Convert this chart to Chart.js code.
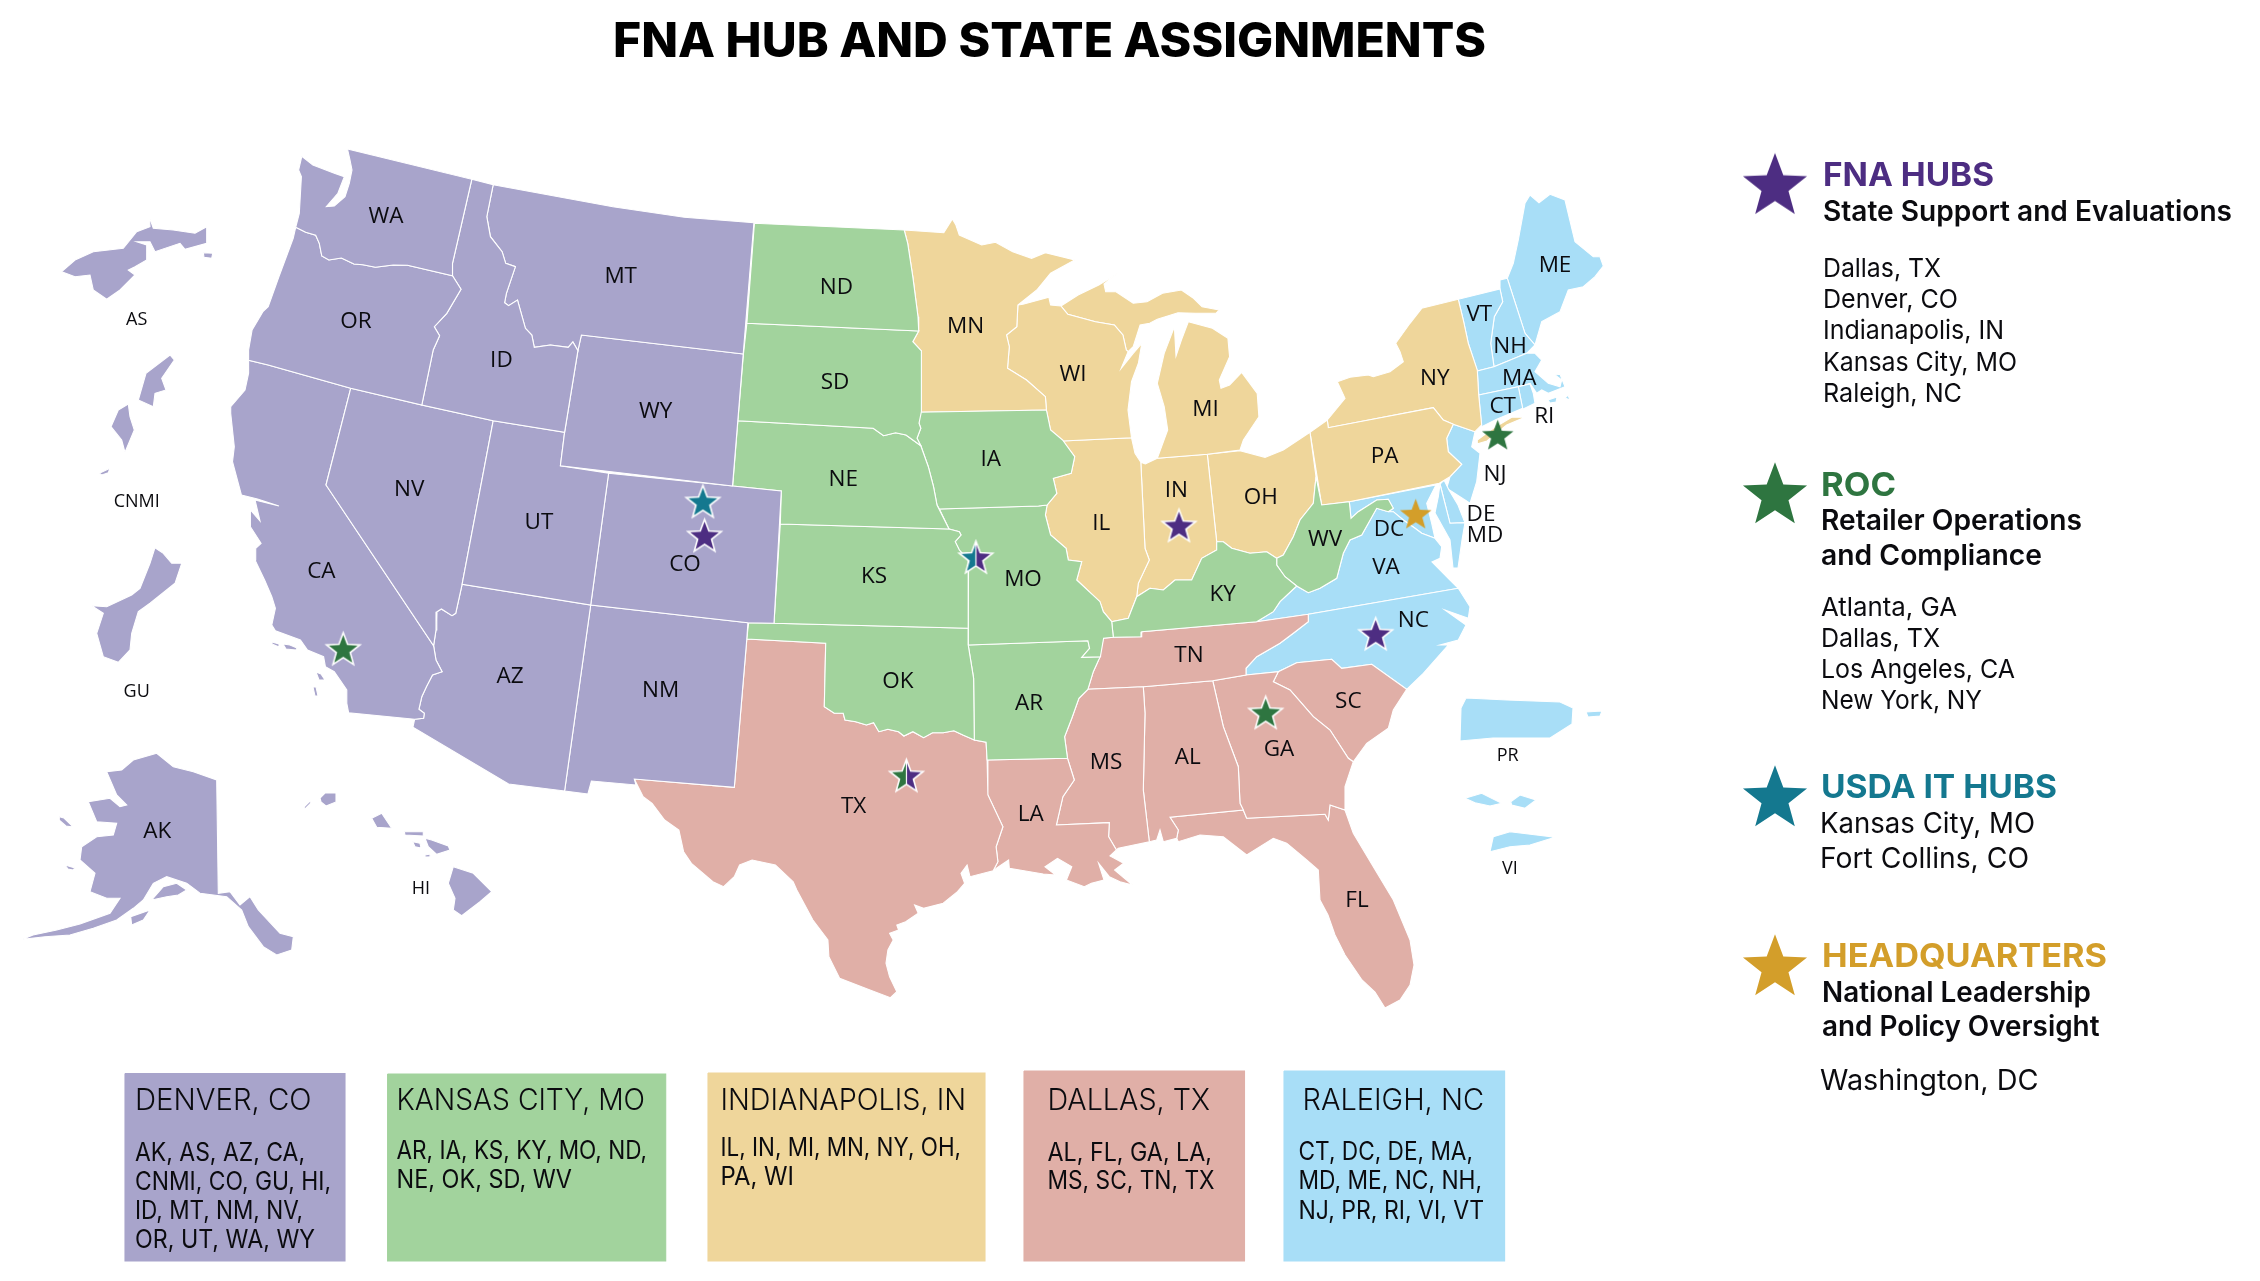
<!DOCTYPE html>
<html>
<head>
<meta charset="utf-8">
<title>FNA Hub and State Assignments</title>
<script src="https://cdn.jsdelivr.net/npm/chart.js@4/dist/chart.umd.min.js"></script>
<style>
    html, body { margin: 0; padding: 0; background: #fff; }
    canvas { display: block; }
</style>
</head>
<body>
<canvas id="mapa" width="2260" height="1281"></canvas>
<script>
// outlines are x,y pairs in map units
const WA = [301.8,156.3, 312.9,165, 334.3,173.3, 344.3,176.7, 337.9,193.3, 326.4,206.7, 334.3,206, 345,196.7, 349.3,183.3, 352,170, 350,160, 347.5,149, 471.8,179.3, 452.5,263.3, 452.5,275.7, 407.5,265.3, 393.2,265, 375.4,267.3, 362.9,264.7, 353.9,264, 341.4,258, 328.9,260, 321.8,256, 319.3,243.3, 315.7,235.3, 305.7,232.3, 295.7,227.3, 299.3,213.3, 301.4,176.7, 298.6,170];
const OR = [295.7,227.3, 305.7,232.3, 315.7,235.3, 319.3,243.3, 321.8,256, 328.9,260, 341.4,258, 353.9,264, 362.9,264.7, 375.4,267.3, 393.2,265, 407.5,265.3, 452.5,275.7, 461,289.3, 446.8,313.3, 434.3,326.7, 439.6,335.7, 433.2,350, 421.8,405, 350.7,388.3, 268.2,365, 248.6,360.3, 248.6,350, 252.1,330, 262.9,311.7, 268.2,306.7, 278.9,276.7, 293.2,238.3];
const ID = [471.8,179.3, 493.2,184.7, 486.8,216.7, 490.4,236.7, 502.1,251.7, 505.7,263.3, 515.4,266.7, 506.4,293.3, 504.6,302.7, 508.6,305.7, 517.5,300, 525.4,328.3, 531.8,335, 534.3,347.3, 550.4,345, 568.2,347.3, 572.9,342, 577.9,350.7, 564.6,432.3, 493.2,420.7, 421.8,405, 433.2,350, 439.6,335.7, 434.3,326.7, 446.8,313.3, 461,289.3, 452.5,275.7, 452.5,263.3];
const MT = [493.2,184.7, 612.9,206.7, 684.3,217.3, 753.9,222.7, 743.2,354, 581.4,335, 577.9,350.7, 572.9,342, 568.2,347.3, 550.4,345, 534.3,347.3, 531.8,335, 525.4,328.3, 517.5,300, 508.6,305.7, 504.6,302.7, 506.4,293.3, 515.4,266.7, 505.7,263.3, 502.1,251.7, 490.4,236.7, 486.8,216.7];
const WY = [581.4,335, 743.2,354, 732.5,486, 560.4,465.7, 564.6,432.3, 577.9,350.7];
const UT = [493.2,420.7, 564.6,432.3, 560.4,465.7, 608.6,473.3, 590.7,605, 462.1,584.3];
const CO = [608.6,473.3, 732.5,486, 781.3,491, 774,623.3, 747.9,622.7, 590.7,605];
const NV = [350.7,388.3, 421.8,405, 493.2,420.7, 462.1,584.3, 455.7,613.3, 452,615.7, 441.4,609, 436.8,611.7, 436,630, 433.6,645.7, 326,485];
const CA = [248.6,360.3, 268.2,365, 350.7,388.3, 326,485, 433.6,645.7, 436,660, 442.1,671.7, 432.5,675, 426.4,686.7, 421.8,696.7, 418.9,709.3, 424.3,713.3, 423.6,718.3, 414.6,719.3, 348.6,712.7, 346.8,703.3, 346.8,690, 334.3,671.7, 325.4,666.7, 323.6,656.7, 307.5,650, 300.4,640, 275.4,630.7, 271.8,625, 275.4,608.3, 271.8,596.7, 264.6,580, 255,560, 255.7,548.3, 261.1,543.3, 250.4,526.7, 250.4,510, 260,521, 255,500, 279,506, 257.5,499, 241.4,495, 232.5,461.7, 234.3,446.7, 230.7,413.3, 230.7,406.7, 245,390, 248.6,373.3];
const CA_ISLAND_1 = [272,642, 279,644, 279,647, 272,644];
const CA_ISLAND_2 = [283,644, 290,645, 297,648, 296,650, 286,649];
const CA_ISLAND_3 = [316,672, 321,674, 325,680, 319,680];
const CA_ISLAND_4 = [313,687, 316,687, 318,696, 315,696];
const AZ = [462.1,584.3, 590.7,605, 564.6,791, 508.6,784, 412.9,727.3, 414.6,719.3, 423.6,718.3, 424.3,713.3, 418.9,709.3, 421.8,696.7, 426.4,686.7, 432.5,675, 442.1,671.7, 436,660, 433.6,645.7, 436,630, 436.8,611.7, 441.4,609, 452,615.7, 455.7,613.3];
const NM = [590.7,605, 747.9,622.7, 746.8,639, 734.3,787.3, 634.3,779, 636,785, 591.4,781, 587.9,794, 564.6,791];
const AK = [156.7,753.3, 173.3,766.7, 193.3,771.7, 216.7,780, 218.3,893.3, 230,891.7, 240,905, 250,896.7, 258.3,910, 280,933.3, 293.3,936.7, 291.7,950, 276.7,955, 263.3,946.7, 248.3,926.7, 241.7,910, 226.7,896.7, 200,893.3, 186.7,883.3, 166.7,876.7, 153.3,883.3, 143.3,900, 133.3,908.3, 116.7,920, 93.3,928.3, 70,935, 45,936.7, 22.7,939.3, 33,935, 56.7,930, 80,924, 110,913.3, 120,898.3, 106.7,898.3, 90,891.7, 95,873.3, 80,860, 81.7,846.7, 96.7,836.7, 113.3,835, 116.7,823.3, 96.7,821.7, 88.3,801.7, 110,798.3, 120,806.7, 126.7,805, 116.7,795, 106.7,771.7, 121.7,770, 133.3,760];
const AK_KENAI = [151.7,900, 163.3,886.7, 176.7,883.3, 186.7,890, 178.3,895, 166.7,896.7];
const AK_KODIAK = [150,910, 143.3,920, 131.7,925, 130.7,916.7];
const AK_ST_LAWRENCE = [59.3,816.7, 64,818, 73.3,827, 66,826, 59,820];
const AK_NUNIVAK = [65,865, 75,868, 73,870, 68,869];
const HI_KAUAI = [320,798, 325,793, 336,793, 336,802, 326,806, 321,802];
const HI_NIIHAU = [304,807, 310,801, 311,803, 305,809];
const HI_OAHU = [371.7,818.3, 381.7,813.3, 391.7,828.3, 376.7,827.3];
const HI_MOLOKAI = [404.3,831.7, 423.3,831.7, 423.3,836, 405,835];
const HI_LANAI = [412.7,841.7, 420,843.3, 421,848, 415,846.7];
const HI_MAUI = [425,838.3, 431.7,840, 448.3,846, 450,850, 436.7,854.3, 428.3,846.7];
const HI_KAHOOLAWE = [425,855, 430.7,854, 430,856.7, 425,857];
const HI_BIG = [453.3,866.7, 473.3,873.3, 491.7,891.7, 480,901.7, 461.7,915.7, 453.3,910, 455,898.3, 448.3,883.3];
const AS_MAIN = [61.7,271.7, 75,260, 93.3,251.7, 123.3,248.3, 136.7,231.7, 150,226.7, 149.3,216.7, 153.3,228.3, 173.3,230, 195,233.3, 206.7,226.7, 206.7,243.3, 185,249.3, 180,243.3, 155,251.7, 150,241.7, 136.7,241.7, 146.7,245, 146.7,260, 135,266.7, 128.3,270, 135,275, 120,290, 106.7,299.3, 93.3,290, 90,275, 75,276.7];
const AS_SMALL = [203.3,252.7, 212.7,253.3, 211.7,258.3, 204,257.3];
const CNMI_SAIPAN = [170,355, 174.3,360, 161.7,378.3, 166,390, 155,393.3, 153.3,406.7, 138.3,400, 146,373.3];
const CNMI_TINIAN = [128.3,404, 130,416.7, 134.3,430, 125,452.3, 121.7,440, 111,426.7, 118.3,410];
const CNMI_ROTA = [99.3,473.3, 110,468.3, 108.3,472.7, 101.7,475];
const GU = [155,547.7, 163.3,553.3, 171.7,563.3, 181.7,563.3, 175,583.3, 150,603.3, 138.3,611.7, 131.7,633.3, 130,650, 118.3,662.3, 103.3,656.7, 96.7,633.3, 103.3,613.3, 91.7,605.7, 106.7,606.7, 131.7,595, 140,588.3, 150,563.3];

const ND = [754.4,223.3, 904.2,230, 907.7,243.3, 912.8,276.7, 918,316.7, 918.7,331, 746.9,323.3];
const SD = [746.9,323.3, 918.7,331, 912.8,341.7, 921.4,351, 921.4,411.7, 919,423.3, 920.8,428.3, 917,438.3, 920.8,445.7, 906,435, 895.6,432.7, 883.6,435.7, 873.2,428.3, 737.9,420.7, 743.4,354.3];
const NE = [737.9,420.7, 873.2,428.3, 883.6,435.7, 895.6,432.7, 906,435, 920.8,445.7, 928.3,466.7, 933.5,486.7, 937,505, 949,529, 780.3,524, 781.3,491, 732.7,486];
const KS = [780.3,524, 949,529, 959.3,531.7, 961,535, 955.2,541.7, 959.3,550, 968.6,560, 968.2,628.3, 774,623.3];
const IA = [918,412.3, 1046.4,410, 1050.6,430, 1062.6,440, 1074.7,456.7, 1071.2,473.3, 1053.3,478.3, 1056.8,493.3, 1047.1,505, 1038.5,506, 939.4,509, 937,505, 933.5,486.7, 928.3,466.7, 920.8,445.7, 917,438.3, 920.8,428.3, 919,423.3];
const MO = [939.4,509, 1038.5,506, 1047.1,505, 1045.4,515, 1050.6,535, 1066.1,548.3, 1068.3,560, 1081.7,561.7, 1076.7,580, 1100,601.7, 1103.3,611.7, 1111.7,621.7, 1113.3,637.3, 1103.6,638.3, 1100.4,656.7, 1081.8,657.3, 1089.6,648.3, 1087.9,640.7, 968.2,645, 968.2,628.3, 968.6,560, 959.3,550, 955.2,541.7, 961,535, 959.3,531.7, 949,529];
const OK = [748.6,622.7, 773.6,623.3, 968.2,628.3, 968.2,645, 973.6,678.3, 974.3,740, 962.9,735, 953.9,730.7, 943.2,732.7, 932.5,732.7, 923.6,737.7, 912.9,731.7, 903.9,736, 898.6,731.7, 887.9,729.3, 878.9,731.7, 873.6,722.7, 866.4,725, 855.7,721.7, 845,720, 843.2,713.3, 834.3,713.3, 824.3,706.7, 825.7,643.3, 746.8,639];
const AR = [968.2,645, 1087.9,640.7, 1089.6,648.3, 1081.8,657.3, 1100.4,656.7, 1098.6,660, 1093.3,671.7, 1087.9,689.3, 1078.9,698.3, 1071.8,718.3, 1064.6,736.7, 1067.5,758.3, 987.1,760, 986.1,742.3, 974.3,740, 973.6,678.3];
const KY = [1216.7,541.7, 1223.3,541.7, 1231.7,548.3, 1250,553.3, 1266.7,551.7, 1276.7,558.3, 1276.7,565, 1285,576.7, 1296.7,586, 1280,601.7, 1273.3,611.7, 1256.7,621.7, 1141.7,631.7, 1141,636.7, 1113.3,637.3, 1111.7,621.7, 1128.3,618.3, 1136.7,596.7, 1150,588.3, 1163.3,590, 1175,580, 1191.7,580, 1201.7,558.3, 1216.7,550];
const WV = [1316,476.7, 1321.7,505, 1349.3,501.7, 1351,518.3, 1358.3,511.7, 1376.7,500, 1388.3,499.3, 1393.3,508.3, 1388.3,511.7, 1376.7,508.3, 1361.7,535, 1350,540, 1343.3,553.3, 1336.7,578.3, 1320,588.3, 1308.3,592.7, 1296.7,586, 1285,576.7, 1276.7,565, 1276.7,558.3, 1283.3,555, 1293.3,536.7, 1300,520, 1313.3,503.3];

const MN = [904.2,230, 943.8,232.7, 952.4,219, 955.9,225, 959.3,235, 981.7,245, 995.5,242.3, 1012.7,251.7, 1031.6,258.3, 1045.4,252.7, 1074.7,260, 1050.6,273.3, 1036.8,290, 1017.9,305, 1016.8,326.7, 1006.5,335, 1009.3,346.7, 1007.5,368.3, 1026.5,380, 1045.4,396.7, 1046.4,410, 918,412.3, 921.4,411.7, 921.4,351, 912.8,341.7, 918.7,331, 918,316.7, 912.8,276.7, 907.7,243.3];
const WI = [1017.9,305, 1023,304.3, 1048.9,297.3, 1050.6,305, 1060.9,306, 1067.8,314.3, 1095.4,321.7, 1114.3,325, 1122.9,335, 1126.3,350, 1128.1,351.7, 1121.2,368.3, 1133.2,353.3, 1141.8,343.3, 1138.4,363.3, 1131.5,381.7, 1128,410, 1131.5,437.7, 1062.6,441, 1050.6,430, 1046.4,410, 1045.4,396.7, 1026.5,380, 1007.5,368.3, 1009.3,346.7, 1006.5,335, 1016.8,326.7];
const MI_UPPER = [1060.9,306, 1078.1,295, 1098.8,285, 1117.7,273.3, 1104,284, 1105.7,291.7, 1116,291.7, 1133.2,303.3, 1147,301.7, 1162.5,293.3, 1181.4,290, 1193.5,298.3, 1202.1,306.7, 1219.3,310, 1215.9,313.3, 1195.2,313.3, 1178,312.7, 1167.7,316, 1157.3,319.3, 1149.7,323.3, 1140.1,325, 1133.2,346.7, 1128.1,351.7, 1126.3,350, 1122.9,335, 1114.3,325, 1095.4,321.7, 1067.8,314.3];
const MI_LOWER = [1157.3,458.3, 1167.7,430, 1164.2,406.7, 1157.3,383.3, 1164.2,353.3, 1174.4,326.7, 1176,356, 1181.4,340, 1188.3,321.7, 1212.4,328.3, 1227.9,338.3, 1229.6,356.7, 1219.3,380, 1221,388.3, 1229.6,385, 1241.7,372.3, 1257.2,393.3, 1258.9,416.7, 1243.4,440, 1240,450, 1207.3,454.3];
const IL = [1062.6,441, 1131.5,437.7, 1135,453.3, 1140.8,462.3, 1145,548.3, 1149.3,560, 1138.3,583.3, 1136.7,596.7, 1128.3,618.3, 1111.7,621.7, 1103.3,611.7, 1100,601.7, 1076.7,580, 1081.7,561.7, 1068.3,560, 1066.1,548.3, 1050.6,535, 1045.4,515, 1047.1,505, 1056.8,493.3, 1053.3,478.3, 1071.2,473.3, 1074.7,456.7];
const IN = [1140.8,462.3, 1145.3,464, 1157.3,458.3, 1207.3,454.3, 1216.7,541.7, 1216.7,550, 1201.7,558.3, 1191.7,580, 1175,580, 1163.3,590, 1150,588.3, 1136.7,596.7, 1138.3,583.3, 1149.3,560, 1145,548.3];
const OH = [1207.3,454.3, 1240,450.7, 1265,457.3, 1283.3,450, 1310,432.3, 1316,476.7, 1313.3,503.3, 1300,520, 1293.3,536.7, 1283.3,555, 1276.7,558.3, 1266.7,551.7, 1250,553.3, 1231.7,548.3, 1223.3,541.7, 1216.7,541.7];
const PA = [1310,432.3, 1327.3,420, 1328.3,427.7, 1433.3,407.7, 1443.3,420, 1453.3,424.3, 1446.7,438.3, 1448.3,451.7, 1461.7,464.3, 1450,476.7, 1439.3,483.3, 1349.3,501.7, 1321.7,505];
const NY = [1327.3,420, 1345,398.3, 1337.3,381.7, 1350,377.3, 1368.3,375, 1373.3,376.7, 1390,371.7, 1403.3,361.7, 1400,351.7, 1395.7,343.3, 1410,323.3, 1421.7,308.3, 1458.3,299.3, 1463.3,320, 1468.3,343.3, 1477.3,370, 1478.7,395, 1481.7,425, 1475,431.7, 1453.3,424.3, 1443.3,420, 1433.3,407.7, 1328.3,427.7];
const NY_LONG_ISLAND = [1477.3,440, 1493.3,428.3, 1511.7,417.3, 1525,417.3, 1506.7,425, 1487,441, 1477,444];

const TX = [746.8,639, 825.7,643.3, 824.3,706.7, 834.3,713.3, 843.2,713.3, 845,720, 855.7,721.7, 866.4,725, 873.6,722.7, 878.9,731.7, 887.9,729.3, 898.6,731.7, 903.9,736, 912.9,731.7, 923.6,737.7, 932.5,732.7, 943.2,732.7, 953.9,730.7, 962.9,735, 974.3,740, 986.1,742.3, 987.1,760, 987.9,795, 1002.9,826.7, 996.1,846.7, 997.9,861.7, 993.2,870.7, 970,876.7, 967.1,865, 961,873.3, 964.6,883.3, 957.5,891.7, 943.2,903.3, 923.6,908.3, 914.6,905, 918.2,913.3, 905.7,921.7, 896.8,925, 898.6,930, 889.6,933.3, 893.2,940, 887.9,950, 886,963.3, 889.6,976.7, 896.8,991.7, 890.4,997.7, 870,990, 839.6,978.3, 828.9,956.7, 827.9,940, 812.9,920, 796.8,890, 793.2,881.7, 775.4,865, 752.1,860, 739.6,865, 734.3,876.7, 723.6,886.7, 712.9,881.7, 691.4,863.3, 683.6,851.7, 678.9,830, 664.6,820, 652.1,803.3, 643.2,796.7, 634.3,779, 734.3,787.3];
const LA = [987.1,760, 1067.5,758.3, 1074.3,780, 1062.9,796.7, 1056.4,825, 1109.3,822.7, 1108.6,836.7, 1116.4,850, 1110,856, 1123.6,863.3, 1114.6,870, 1132.5,885, 1120,881.7, 1109.3,876.7, 1098.6,863.3, 1104,880, 1091.4,883.3, 1084.3,886.7, 1066.4,880, 1071.8,866.7, 1057.5,858.3, 1045,866.7, 1055.7,875, 1043.2,874, 1009.3,868.3, 1008.6,860, 998.6,866.7, 993.2,870.7, 997.9,861.7, 996.1,846.7, 1002.9,826.7, 987.9,795];
const MS = [1087.9,689.3, 1143.3,686.7, 1145,713.3, 1143.3,790, 1149.3,841.7, 1118.3,848.3, 1116.4,850, 1108.6,836.7, 1109.3,822.7, 1056.4,825, 1062.9,796.7, 1074.3,780, 1067.5,758.3, 1064.6,736.7, 1071.8,718.3, 1078.9,698.3];
const TN = [1103.3,638.3, 1113.3,637.3, 1141,636.7, 1141.7,631.7, 1256.7,621.7, 1308.3,614.3, 1308.3,621.7, 1293.3,633.3, 1280,643.3, 1256.7,656.7, 1246,668.3, 1246,675, 1212.7,680.7, 1143.3,686.7, 1087.9,689.3, 1093.3,671.7, 1098.6,660];
const AL = [1143.3,686.7, 1212.7,680.7, 1223.3,726.7, 1238.3,766.7, 1240,803.3, 1243.3,810, 1170,817.3, 1178.3,830, 1176.7,838.3, 1163.3,841.7, 1160,830, 1156.7,840, 1149.3,841.7, 1143.3,790, 1145,713.3];
const GA = [1212.7,680.7, 1246,675, 1278.3,671.7, 1273.3,681.7, 1290,690, 1313.3,716.7, 1330,730, 1348.3,758.3, 1353.3,761.7, 1345,786.7, 1345,810, 1330,805, 1328.3,820, 1325,814.3, 1246.7,818.3, 1243.3,810, 1240,803.3, 1238.3,766.7, 1223.3,726.7];
const SC = [1273.3,681.7, 1278.3,671.7, 1296.7,662.7, 1331.7,659.3, 1341.7,668.3, 1371.7,664.3, 1406.7,689.3, 1393.3,710, 1388.3,728.3, 1366.7,743.3, 1353.3,761.7, 1348.3,758.3, 1330,730, 1313.3,716.7, 1290,690];
const FL = [1246.7,818.3, 1325,814.3, 1328.3,820, 1330,805, 1345,810, 1353.3,833.3, 1373.3,866.7, 1393.3,900, 1410,940, 1414,965, 1410,985, 1400,1000, 1385,1008, 1375,992, 1362,980, 1345,955, 1335,935, 1328,915, 1320,900, 1318.3,870, 1306.7,860, 1286.7,843.3, 1273.3,838.3, 1246.7,855, 1223.3,836.7, 1200,835, 1178.3,841.7, 1176.7,838.3, 1178.3,830, 1170,817.3, 1243.3,810];

const NC = [1308.3,614.3, 1458.3,588.3, 1470,606.7, 1468.3,618.3, 1445,610, 1466,625, 1458.3,640, 1440,645, 1448.3,645, 1423.3,673.3, 1406.7,689.3, 1371.7,664.3, 1341.7,668.3, 1331.7,659.3, 1296.7,662.7, 1278.3,671.7, 1246,675, 1246,668.3, 1256.7,656.7, 1280,643.3, 1293.3,633.3, 1308.3,621.7];
const VA = [1256.7,621.7, 1273.3,611.7, 1280,601.7, 1296.7,586, 1308.3,592.7, 1320,588.3, 1336.7,578.3, 1343.3,553.3, 1350,540, 1361.7,535, 1376.7,508.3, 1388.3,511.7, 1393.3,511.7, 1403.3,520, 1415,528.3, 1421.7,533.3, 1435,538.3, 1441.7,546.7, 1440,558.3, 1432,562, 1450,580, 1458.3,588.3, 1308.3,614.3];
const MD_WEST = [1349.3,501.7, 1436,485, 1426.7,503.3, 1431.7,523.3, 1435,538.3, 1421.7,533.3, 1415,528.3, 1403.3,520, 1393.3,511.7, 1388.3,511.7, 1393.3,508.3, 1388.3,499.3, 1376.7,500, 1358.3,511.7, 1351,518.3];
const MD_EAST = [1440,484, 1438.3,496.7, 1435,513, 1450,540, 1453,568, 1458,568, 1462,540, 1465,522.7, 1450,523.3];
const DE = [1440,484, 1444,480, 1449,490, 1458,505, 1465,522.7, 1450,523.3];
const NJ = [1453.3,424.3, 1475,431.7, 1471.7,446.7, 1480,453.3, 1476.7,481.7, 1470,503.3, 1460,496.7, 1446.7,488.3, 1450,476.7, 1461.7,464.3, 1448.3,451.7, 1446.7,438.3];
const CT = [1478.7,395, 1518.3,386.7, 1522.7,408.3, 1496.7,419.3, 1481.7,426.7];
const RI = [1518.3,386.7, 1530,384, 1533.3,393.3, 1535,403.3, 1522.7,409.3];
const MA = [1477.3,371, 1494,366.7, 1526.7,353.3, 1535,353.3, 1541.7,360, 1535,371.7, 1548.3,383.3, 1560,386.7, 1561.7,380, 1555,375, 1560,374.3, 1565,386.7, 1548.3,393.3, 1541.7,390, 1536.7,393.3, 1530,383.3, 1518.3,386.7, 1478.7,395];
const MA_VINEYARD = [1548,400, 1557,397, 1556,402, 1550,403];
const MA_NANTUCKET = [1565,398, 1568,395, 1570,400];
const VT = [1458.3,299.3, 1500,289, 1502.7,301.7, 1494.3,316.7, 1490.7,343.3, 1494,366.7, 1477.3,371, 1468.3,343.3, 1463.3,320];
const NH = [1500,289, 1500,280, 1507.3,278.3, 1525,333.3, 1535,345, 1526.7,353.3, 1494,366.7, 1490.7,343.3, 1494.3,316.7, 1502.7,301.7];
const ME = [1507.3,278.3, 1513.3,263.3, 1518.3,240, 1525,203.3, 1530,195, 1539,202.7, 1550,194.3, 1565,200, 1575,241.7, 1593.3,256.7, 1600,256.7, 1603.3,266, 1595,276.7, 1583.3,286.7, 1568.3,290, 1560,311.7, 1541.7,321.7, 1535,345, 1525,333.3];
const PR = [1461,708, 1466,698, 1507,700, 1560,702, 1573,708, 1572,724, 1550,738, 1493,738, 1460,741];
const PR_VIEQUES = [1586,712, 1602,711, 1600,716, 1588,717];
const VI_ST_THOMAS = [1465,798.3, 1481.7,793.3, 1501.7,803.3, 1490,806, 1475,802.7];
const VI_ST_JOHN = [1510.7,801.7, 1520,795, 1536,800, 1525,808.3, 1511.7,805];
const VI_ST_CROIX = [1490,851.7, 1493.3,836.7, 1510,831.7, 1555,837.3, 1530,845, 1510,846.7];

const denverShapes = [WA, OR, ID, MT, WY, UT, CO, NV, CA, CA_ISLAND_1, CA_ISLAND_2, CA_ISLAND_3, CA_ISLAND_4, AZ, NM, AK, AK_KENAI, AK_KODIAK, AK_ST_LAWRENCE, AK_NUNIVAK, HI_KAUAI, HI_NIIHAU, HI_OAHU, HI_MOLOKAI, HI_LANAI, HI_MAUI, HI_KAHOOLAWE, HI_BIG, AS_MAIN, AS_SMALL, CNMI_SAIPAN, CNMI_TINIAN, CNMI_ROTA, GU];
const kansasShapes = [ND, SD, NE, KS, IA, MO, OK, AR, KY, WV];
const indianapolisShapes = [MN, WI, MI_UPPER, MI_LOWER, IL, IN, OH, PA, NY, NY_LONG_ISLAND];
const dallasShapes = [TX, LA, MS, TN, AL, GA, SC, FL];
const raleighShapes = [NC, VA, MD_WEST, MD_EAST, DE, NJ, CT, RI, MA, MA_VINEYARD, MA_NANTUCKET, VT, NH, ME, PR, PR_VIEQUES, VI_ST_THOMAS, VI_ST_JOHN, VI_ST_CROIX];

// state labels
const stateNames = ['WA','MT','OR','ID','WY','NV','UT','CO','CA','AZ','NM','ND','MN','SD','WI','MI','IA','NE','IN','IL','KS','MO','KY','OH','OK','AR','TX','LA','MS','AL','TN','GA','SC','NC','VA','WV','DC','DE','MD','FL','ME','VT','NH','NY','MA','CT','RI','PA','NJ','AK'];
const stateX = [386,620.7,356,501.4,655.7,409.3,539,685,321.4,510,660.7,836.4,965.5,835,1073,1205.5,990.7,843.3,1176.3,1101.2,874,1023,1222.7,1260.7,897.9,1029,853.6,1030.7,1106,1187.7,1189,1279,1348.3,1413.3,1386,1325,1389,1481,1485,1357,1555,1479.3,1510,1434.7,1519.3,1502.7,1544.3,1384.7,1495,157.3];
const stateY = [216.5,276.8,321.8,360.8,411.8,489.2,522.5,564.8,571.5,676.8,690.2,287.2,326.5,382.8,374.2,409.2,459.2,479.2,490.8,523.2,576.8,579.8,594.2,497.5,681.8,703.2,806.5,814.2,762.5,757.5,655.8,749.2,701.8,620.8,567.5,539.8,529.2,514.2,535.2,900.5,265.2,314.8,346.8,378.2,378.2,406.5,416.5,456.8,474.8,831.8];
const insetNames = ['HI','PR','VI','AS','CNMI','GU'];
const insetX = [421,1507.7,1510,136.7,136.7,136.7];
const insetY = [889.2,755.8,868.8,319.8,501.5,692.2];

// hub stars
const fnaStarX = [704.6,1179,1375.7];
const fnaStarY = [536.9,526.9,635.2];
const rocStarX = [343.2,1265.7];
const rocStarY = [650.2,713.9];
const usdaStarX = [702.9];
const usdaStarY = [502.9];
const hqStarX = [1415.7];
const hqStarY = [515.2];
const nyStarX = [1497.7];
const nyStarY = [436.3];
const kcStarX = [975.9];
const kcStarY = [558.6];
const dallasStarX = [906.4];
const dallasStarY = [776.9];
const legendStarX = [1775,1775,1775,1775];
const legendStarY = [186.7,496,799,968];

// boxes under the map: left, right, top, bottom
const boxLeft = [125,387.6,708,1024,1284];
const boxRight = [345,665.7,985,1244.5,1504.6];
const boxTop = [1073.5,1074,1073,1071,1071];
const boxBottom = [1261,1261,1261,1261,1261];
const boxHeaders = ['DENVER, CO','KANSAS CITY, MO','INDIANAPOLIS, IN','DALLAS, TX','RALEIGH, NC'];
const headerX = [135,396.5,720.5,1047.5,1302.5];
const headerRight = [311.5,645,966,1210,1484];
const boxLinesDenver = ['AK, AS, AZ, CA,','CNMI, CO, GU, HI,','ID, MT, NM, NV,','OR, UT, WA, WY'];
const boxLinesKansas = ['AR, IA, KS, KY, MO, ND,','NE, OK, SD, WV'];
const boxLinesIndianapolis = ['IL, IN, MI, MN, NY, OH,','PA, WI'];
const boxLinesDallas = ['AL, FL, GA, LA,','MS, SC, TN, TX'];
const boxLinesRaleigh = ['CT, DC, DE, MA,','MD, ME, NC, NH,','NJ, PR, RI, VI, VT'];

const CORES = { denver: '#a8a4cb', kansas: '#a2d39d', indianapolis: '#efd69b', dallas: '#e0afa7', raleigh: '#a8def7' };
const ROXO = '#4d2d82', VERDE = '#2e7540', AZUL = '#14788f', OURO = '#d39e2a', PRETO = '#0b0b0f';

function paraPontos(lista) {
    var pontos = [];
    for (var i = 0; i < lista.length; i += 2) {
        pontos.push({ x: lista[i], y: lista[i + 1] });
    }
    pontos.push({ x: lista[0], y: lista[1] });
    return pontos;
}

function datasetForma(lista, cor, borda) {
    return {
        data: paraPontos(lista),
        showLine: true,
        fill: 'shape',
        backgroundColor: cor,
        borderColor: borda,
        borderWidth: 1.1,
        pointRadius: 0,
        tension: 0,
        order: 2
    };
}

// five arm star as a point image, optionally split in two colours
function criarEstrela(raio, corEsq, corDir, contorno) {
    var tela = document.createElement('canvas');
    var lado = Math.ceil(raio * 2 + 8);
    tela.width = lado;
    tela.height = lado;
    var c = tela.getContext('2d');
    var caminho = function () {
        c.beginPath();
        for (var i = 0; i < 10; i++) {
            var r = i % 2 == 0 ? raio : raio * 0.42;
            var ang = -Math.PI / 2 + i * Math.PI / 5;
            c.lineTo(lado / 2 + r * Math.cos(ang), lado / 2 + r * Math.sin(ang));
        }
        c.closePath();
    };
    caminho();
    c.fillStyle = corEsq;
    c.fill();
    if (corDir) {
        c.save();
        caminho();
        c.clip();
        c.fillStyle = corDir;
        c.fillRect(lado / 2, 0, lado / 2, lado);
        c.strokeStyle = '#ffffff';
        c.lineWidth = 1.2;
        c.beginPath();
        c.moveTo(lado / 2, 0);
        c.lineTo(lado / 2, lado);
        c.stroke();
        c.restore();
    }
    if (contorno) {
        caminho();
        c.strokeStyle = '#ffffff';
        c.lineWidth = 1.6;
        c.lineJoin = 'miter';
        c.stroke();
    }
    return tela;
}

function datasetEstrelas(xs, ys, imagem) {
    var pontos = [];
    for (var i = 0; i < xs.length; i++) {
        pontos.push({ x: xs[i], y: ys[i] });
    }
    return { data: pontos, showLine: false, pointStyle: imagem, pointRadius: 20, order: 1 };
}

var datasets = [];
denverShapes.forEach(function (s) { datasets.push(datasetForma(s, CORES.denver, '#ffffff')); });
kansasShapes.forEach(function (s) { datasets.push(datasetForma(s, CORES.kansas, '#ffffff')); });
indianapolisShapes.forEach(function (s) { datasets.push(datasetForma(s, CORES.indianapolis, '#ffffff')); });
dallasShapes.forEach(function (s) { datasets.push(datasetForma(s, CORES.dallas, '#ffffff')); });
raleighShapes.forEach(function (s) { datasets.push(datasetForma(s, CORES.raleigh, '#ffffff')); });

var coresCaixas = [CORES.denver, CORES.kansas, CORES.indianapolis, CORES.dallas, CORES.raleigh];
for (var b = 0; b < boxLeft.length; b++) {
    datasets.push(datasetForma([boxLeft[b], boxTop[b], boxRight[b], boxTop[b], boxRight[b], boxBottom[b], boxLeft[b], boxBottom[b]], coresCaixas[b], coresCaixas[b]));
}

datasets.push(datasetEstrelas(fnaStarX, fnaStarY, criarEstrela(17.5, ROXO, null, true)));
datasets.push(datasetEstrelas(rocStarX, rocStarY, criarEstrela(17.5, VERDE, null, true)));
datasets.push(datasetEstrelas(usdaStarX, usdaStarY, criarEstrela(17.5, AZUL, null, true)));
datasets.push(datasetEstrelas(hqStarX, hqStarY, criarEstrela(16.5, OURO, null, false)));
datasets.push(datasetEstrelas(nyStarX, nyStarY, criarEstrela(16.5, VERDE, null, false)));
datasets.push(datasetEstrelas(kcStarX, kcStarY, criarEstrela(17.5, AZUL, ROXO, true)));
datasets.push(datasetEstrelas(dallasStarX, dallasStarY, criarEstrela(17.5, VERDE, ROXO, true)));
[ROXO, VERDE, AZUL, OURO].forEach(function (cor, i) {
    datasets.push(datasetEstrelas([legendStarX[i]], [legendStarY[i]], criarEstrela(33.7, cor, null, false)));
});

// text, left, baseline, right, font, colour
const legendLines = [
    ['FNA HUBS', 1823, 185.5, 1994, '700 33px Inter', ROXO],
    ['State Support and Evaluations', 1823, 220.7, 2232, '600 28px Inter', PRETO],
    ['Dallas, TX', 1823, 277.3, 1941, '400 26px Inter', PRETO],
    ['Denver, CO', 1823, 308, 1958, '400 26px Inter', PRETO],
    ['Indianapolis, IN', 1823, 339.3, 2004, '400 26px Inter', PRETO],
    ['Kansas City, MO', 1823, 370.7, 2017, '400 26px Inter', PRETO],
    ['Raleigh, NC', 1823, 401.7, 1962, '400 26px Inter', PRETO],
    ['ROC', 1821, 495.5, 1896, '700 33px Inter', VERDE],
    ['Retailer Operations', 1821, 530, 2082, '600 28px Inter', PRETO],
    ['and Compliance', 1821, 565, 2042, '600 28px Inter', PRETO],
    ['Atlanta, GA', 1821, 616, 1957, '400 26px Inter', PRETO],
    ['Dallas, TX', 1821, 647, 1940, '400 26px Inter', PRETO],
    ['Los Angeles, CA', 1821, 678, 2015, '400 26px Inter', PRETO],
    ['New York, NY', 1821, 709, 1982, '400 26px Inter', PRETO],
    ['USDA IT HUBS', 1821, 798, 2057, '700 33px Inter', AZUL],
    ['Kansas City, MO', 1820, 833, 2035, '400 28px Inter', PRETO],
    ['Fort Collins, CO', 1820, 868, 2029, '400 28px Inter', PRETO],
    ['HEADQUARTERS', 1822, 966.7, 2107, '700 33px Inter', OURO],
    ['National Leadership', 1822, 1001.7, 2091, '600 28px Inter', PRETO],
    ['and Policy Oversight', 1822, 1036, 2099.5, '600 28px Inter', PRETO],
    ['Washington, DC', 1820, 1090, 2038.5, '400 28px Inter', PRETO]
];
const boxTextLines = [
    [boxLinesDenver[0], 135, 1160.7, 305], [boxLinesDenver[1], 135, 1190, 331], [boxLinesDenver[2], 135, 1219, 303], [boxLinesDenver[3], 135, 1247.7, 315],
    [boxLinesKansas[0], 396.5, 1159, 647], [boxLinesKansas[1], 396.5, 1187.7, 572],
    [boxLinesIndianapolis[0], 720.5, 1156, 961], [boxLinesIndianapolis[1], 720.5, 1185, 794],
    [boxLinesDallas[0], 1047.5, 1160.7, 1212], [boxLinesDallas[1], 1047.5, 1189, 1214.6],
    [boxLinesRaleigh[0], 1298.5, 1160, 1473], [boxLinesRaleigh[1], 1298.5, 1189, 1482], [boxLinesRaleigh[2], 1298.5, 1219, 1484]
];

// draws one line squeezed to the span it has in the picture
function textoAjustado(ctx, escX, escY, texto, x, base, direita, fonte, cor) {
    ctx.save();
    ctx.font = fonte;
    ctx.fillStyle = cor;
    ctx.textAlign = 'left';
    ctx.textBaseline = 'alphabetic';
    var esq = escX.getPixelForValue(x);
    var dir = escX.getPixelForValue(direita);
    var largura = ctx.measureText(texto).width;
    ctx.translate(esq, escY.getPixelForValue(base));
    ctx.scale((dir - esq) / largura, 1);
    ctx.fillText(texto, 0, 0);
    ctx.restore();
}

const textosMapa = {
    id: 'textosMapa',
    afterDatasetsDraw: function (chart) {
        var ctx = chart.ctx, escX = chart.scales.x, escY = chart.scales.y;

        textoAjustado(ctx, escX, escY, 'FNA HUB AND STATE ASSIGNMENTS', 613, 56.5, 1486, '800 48px Inter', '#000000');

        ctx.save();
        ctx.textAlign = 'center';
        ctx.textBaseline = 'middle';
        ctx.fillStyle = PRETO;
        ctx.font = '500 22.5px "Open Sans"';
        for (var i = 0; i < stateNames.length; i++) {
            ctx.fillText(stateNames[i], escX.getPixelForValue(stateX[i]), escY.getPixelForValue(stateY[i]));
        }
        ctx.font = '400 18px "Open Sans"';
        for (var j = 0; j < insetNames.length; j++) {
            ctx.fillText(insetNames[j], escX.getPixelForValue(insetX[j]), escY.getPixelForValue(insetY[j]));
        }
        ctx.restore();

        legendLines.forEach(function (l) {
            textoAjustado(ctx, escX, escY, l[0], l[1], l[2], l[3], l[4], l[5]);
        });
        boxHeaders.forEach(function (h, i) {
            textoAjustado(ctx, escX, escY, h, headerX[i], 1110, headerRight[i], '300 30px Inter', PRETO);
        });
        boxTextLines.forEach(function (l) {
            textoAjustado(ctx, escX, escY, l[0], l[1], l[2], l[3], '400 25px Inter', PRETO);
        });
    }
};

const ctxMapa = document.getElementById('mapa');
var chartMapa = new Chart(ctxMapa, {
    type: 'scatter',
    data: { datasets: datasets },
    options: {
        responsive: false,
        animation: false,
        devicePixelRatio: 1,
        layout: { padding: 0, autoPadding: false },
        plugins: {
            legend: { display: false },
            tooltip: { enabled: false }
        },
        scales: {
            x: { type: 'linear', min: 0, max: 2260, display: false },
            y: { type: 'linear', min: 0, max: 1281, reverse: true, display: false }
        }
    },
    plugins: [textosMapa]
});
</script>
</body>
</html>
